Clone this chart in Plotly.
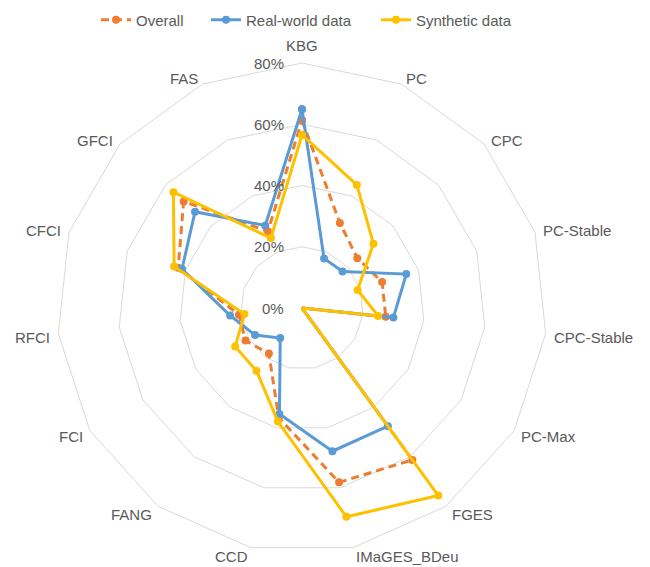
import math
import plotly.graph_objects as go

# Share of correct results (%) per causal discovery algorithm
algorithms = ["KBG", "PC", "CPC", "PC-Stable", "CPC-Stable", "PC-Max", "FGES",
              "IMaGES_BDeu", "CCD", "FANG", "FCI", "RFCI", "CFCI", "GFCI", "FAS"]
overall = [61.3, 30.4, 24.3, 27.5, 27.5, 0, 61.3, 58.2, 36.6, 18.4, 21.3, 20.7, 42.5, 52.0, 27.4]
real_world = [64.9, 17.7, 17.8, 35.8, 30.0, 0, 47.7, 47.8, 35.4, 12.1, 17.7, 23.6, 41.2, 47.0, 29.5]
synthetic = [56.5, 44.0, 31.4, 19.1, 25.0, 0, 75.7, 69.7, 37.9, 25.3, 25.2, 18.9, 43.9, 56.5, 25.0]

radial_ticks = [0, 20, 40, 60, 80]
radial_labels = ["0%", "20%", "40%", "60%", "80%"]
R_MAX = 80

TEXT = "#595959"
GRID = "#D9D9D9"
FONT = "Liberation Sans, Arial, sans-serif"

W, H = 650, 567
ML, MT, SIDE = 57, 63, 490          # plot square: left, top, size
MR, MB = W - ML - SIDE, H - MT - SIDE

series = [
    ("Overall", overall, "#ED7D31", "8px,5px", "legend", 138),
    ("Real-world data", real_world, "#5B9BD5", "solid", "legend2", 248),
    ("Synthetic data", synthetic, "#FFC000", "solid", "legend3", 418),
]

fig = go.Figure()
legends = {}
for name, values, color, dash, leg, text_x in series:
    # close each outline back onto the first algorithm
    fig.add_trace(go.Scatterpolar(
        r=values + values[:1],
        theta=algorithms + algorithms[:1],
        mode="lines+markers",
        name=name,
        legend=leg,
        line=dict(color=color, width=3, dash=dash),
        marker=dict(color=color, size=8),
    ))
    legends[leg] = dict(
        orientation="h",
        xref="container", yref="container",
        x=(text_x - 42) / W, xanchor="left",
        y=1 - 20 / H, yanchor="middle",
        font=dict(size=15, color=TEXT, family=FONT),
        bgcolor="rgba(0,0,0,0)",
    )

annotations = []

# Category labels placed just outside each vertex of the outer polygon
n = len(algorithms)
label_r = 0.5 + 6 / SIDE
for i, name in enumerate(algorithms):
    a = 2 * math.pi * i / n
    s, c = math.sin(a), math.cos(a)
    if abs(s) < 0.01:
        xa, ya, ys = "center", "bottom", 1
    else:
        xa = "left" if s > 0 else "right"
        ya, ys = "middle", (-3 if c < 0 else 0)
    annotations.append(dict(
        text=name, xref="paper", yref="paper",
        x=0.5 + label_r * s, y=0.5 + label_r * c,
        xanchor=xa, yanchor=ya, yshift=ys, showarrow=False,
        font=dict(size=15, color=TEXT, family=FONT),
    ))

# Percentage scale written beside the KBG spoke
for v, t in zip(radial_ticks, radial_labels):
    annotations.append(dict(
        text=t, xref="paper", yref="paper",
        x=0.5, y=0.5 + 0.5 * v / R_MAX,
        xanchor="right", yanchor="middle", xshift=-16, yshift=0,
        showarrow=False,
        font=dict(size=15, color=TEXT, family=FONT),
    ))

fig.update_layout(
    width=W,
    height=H,
    margin=dict(l=ML, r=MR, t=MT, b=MB),
    paper_bgcolor="white",
    plot_bgcolor="white",
    font=dict(family=FONT, size=15, color=TEXT),
    showlegend=True,
    annotations=annotations,
    polar=dict(
        bgcolor="white",
        gridshape="linear",
        domain=dict(x=[0, 1], y=[0, 1]),
        angularaxis=dict(
            direction="clockwise",
            rotation=90,
            showgrid=False,
            showline=True,
            linecolor=GRID,
            linewidth=1,
            ticks="",
            showticklabels=False,
        ),
        radialaxis=dict(
            range=[0, R_MAX],
            tickvals=radial_ticks,
            angle=90,
            showline=False,
            ticks="",
            showticklabels=False,
            gridcolor=GRID,
            gridwidth=1,
        ),
    ),
    **legends,
)

fig.write_html("out.html")
